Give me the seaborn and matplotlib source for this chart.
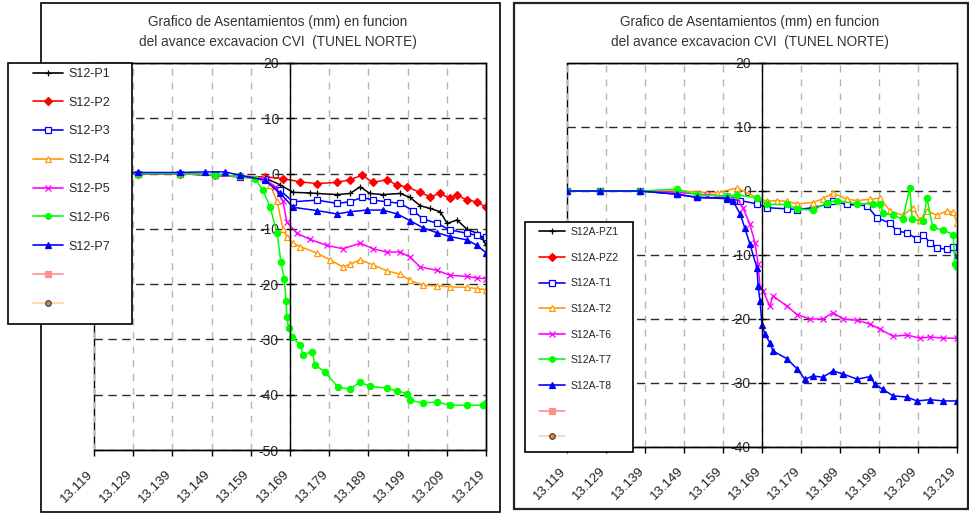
import matplotlib
matplotlib.use("Agg")
import matplotlib.pyplot as plt
import matplotlib.transforms as mtransforms
from matplotlib.lines import Line2D
from matplotlib.patches import Rectangle
import seaborn as sns

sns.set_style("white")
plt.rcParams["font.family"] = ["Liberation Sans", "DejaVu Sans"]

# ---------------- data ----------------
TITLE = "Grafico de Asentamientos (mm) en funcion\ndel avance excavacion CVI  (TUNEL NORTE)"
x_tick_labels = ["13.119", "13.129", "13.139", "13.149", "13.159", "13.169",
                 "13.179", "13.189", "13.199", "13.209", "13.219"]
y_axis_crossing = "13.169"
left_y_ticks = [20, 10, 0, -10, -20, -30, -40, -50]
right_y_ticks = [20, 10, 0, -10, -20, -30, -40]

left_labels = ["S12-P1", "S12-P2", "S12-P3", "S12-P4", "S12-P5", "S12-P6", "S12-P7", "", ""]
right_labels = ["S12A-PZ1", "S12A-PZ2", "S12A-T1", "S12A-T2", "S12A-T6", "S12A-T7", "S12A-T8", "", ""]

# left chart series
p1_x = [13.1190, 13.1302, 13.1409, 13.1499, 13.1562, 13.1626, 13.1664, 13.1698, 13.1741, 13.1759,
        13.1810, 13.1843, 13.1869, 13.1894, 13.1927, 13.1971, 13.1996, 13.2022, 13.2047, 13.2073,
        13.2091, 13.2116, 13.2142, 13.2167, 13.2182, 13.2190]
p1_y = [0, 0, 0, -0.3, -0.5, -0.8, -2.0, -3.4, -3.5, -3.6,
        -3.8, -3.6, -2.4, -3.6, -3.8, -3.6, -4.3, -5.8, -6.3, -6.9,
        -9.0, -8.4, -10.1, -10.8, -11.8, -13.0]

p2_x = [13.1190, 13.1302, 13.1409, 13.1499, 13.1562, 13.1626, 13.1672, 13.1716, 13.1759, 13.1810,
        13.1843, 13.1874, 13.1902, 13.1937, 13.1963, 13.1988, 13.2022, 13.2047, 13.2073, 13.2098,
        13.2116, 13.2142, 13.2167, 13.2190]
p2_y = [0, 0, 0, -0.3, -0.5, -0.6, -0.9, -1.5, -1.8, -1.6,
        -1.1, -0.3, -1.6, -1.1, -2.1, -2.4, -3.4, -4.2, -3.6, -4.5,
        -3.9, -4.8, -5.1, -6.1]

p3_x = [13.1190, 13.1302, 13.1409, 13.1499, 13.1562, 13.1626, 13.1664, 13.1698, 13.1759, 13.1810,
        13.1843, 13.1874, 13.1902, 13.1937, 13.1971, 13.2004, 13.2029, 13.2065, 13.2098, 13.2142,
        13.2167, 13.2190]
p3_y = [0, 0, 0, -0.3, -0.6, -1.0, -3.0, -5.1, -4.8, -5.4,
        -5.1, -4.3, -4.8, -5.1, -5.4, -6.7, -8.2, -9.0, -10.2, -10.8,
        -11.2, -11.5]

p4_x = [13.1190, 13.1302, 13.1409, 13.1499, 13.1562, 13.1621, 13.1639, 13.1657, 13.1672, 13.1682,
        13.1698, 13.1716, 13.1759, 13.1792, 13.1825, 13.1843, 13.1869, 13.1902, 13.1937, 13.1971,
        13.1996, 13.2029, 13.2065, 13.2098, 13.2142, 13.2167, 13.2190]
p4_y = [0, 0, 0, -0.3, -0.5, -0.8, -2.0, -5.0, -10.0, -11.5,
        -12.6, -13.2, -14.4, -15.6, -16.9, -16.4, -15.6, -16.5, -17.6, -18.2,
        -19.3, -20.2, -20.3, -20.5, -20.6, -20.8, -21.0]

p5_x = [13.1190, 13.1302, 13.1409, 13.1499, 13.1562, 13.1626, 13.1652, 13.1672, 13.1682, 13.1708,
        13.1741, 13.1784, 13.1825, 13.1869, 13.1902, 13.1937, 13.1971, 13.1996, 13.2022, 13.2065,
        13.2098, 13.2142, 13.2167, 13.2190]
p5_y = [0, 0, 0, -0.3, -0.5, -0.9, -2.5, -5.0, -8.8, -10.8,
        -11.9, -13.0, -13.6, -12.6, -13.6, -14.2, -14.2, -15.1, -16.9, -17.5,
        -18.4, -18.6, -18.9, -19.0]

p6_x = [13.1190, 13.1302, 13.1409, 13.1499, 13.1562, 13.1601, 13.1621, 13.1639, 13.1657, 13.1667,
        13.1675, 13.1680, 13.1682, 13.1687, 13.1695, 13.1716, 13.1723, 13.1746, 13.1754, 13.1779,
        13.1812, 13.1843, 13.1869, 13.1894, 13.1937, 13.1963, 13.1988, 13.1996, 13.2029, 13.2065,
        13.2098, 13.2142, 13.2182, 13.2190]
p6_y = [0, 0, 0, -0.2, -0.5, -1.0, -3.0, -6.0, -10.8, -16.0,
        -19.0, -23.0, -26.0, -28.0, -29.6, -31.0, -32.8, -32.2, -34.6, -35.9,
        -38.6, -39.0, -37.7, -38.5, -38.8, -39.3, -39.8, -41.0, -41.5, -41.3,
        -41.9, -41.9, -41.9, -41.5]

p7_x = [13.1190, 13.1302, 13.1409, 13.1473, 13.1524, 13.1562, 13.1626, 13.1664, 13.1698, 13.1759,
        13.1810, 13.1843, 13.1886, 13.1927, 13.1963, 13.1996, 13.2029, 13.2065, 13.2098, 13.2142,
        13.2167, 13.2190]
p7_y = [0, 0.2, 0.2, 0.3, 0.3, -0.3, -1.2, -3.5, -6.1, -6.7,
        -7.3, -6.9, -6.6, -6.6, -7.3, -8.5, -9.8, -10.7, -11.4, -12.0,
        -13.0, -14.3]

# right chart series (PZ1 / PZ2 have no visible readings)
pz1_x, pz1_y = [], []
pz2_x, pz2_y = [], []

t1_x = [13.1190, 13.1275, 13.1377, 13.1472, 13.1523, 13.1600, 13.1634, 13.1677, 13.1703, 13.1754,
        13.1780, 13.1821, 13.1857, 13.1872, 13.1908, 13.1959, 13.1985, 13.2018, 13.2036, 13.2062,
        13.2087, 13.2103, 13.2121, 13.2139, 13.2164, 13.2180, 13.2190]
t1_y = [0, 0, 0, -0.5, -1.0, -1.2, -1.5, -2.0, -2.6, -2.8,
        -2.9, -2.6, -2.1, -1.6, -2.1, -2.3, -4.2, -5.0, -6.3, -6.5,
        -7.5, -6.8, -8.1, -8.9, -9.1, -8.8, -10.9]

t2_x = [13.1190, 13.1275, 13.1377, 13.1472, 13.1575, 13.1626, 13.1677, 13.1703, 13.1728, 13.1754,
        13.1780, 13.1821, 13.1846, 13.1872, 13.1908, 13.1934, 13.1967, 13.1993, 13.2018, 13.2051,
        13.2077, 13.2095, 13.2113, 13.2139, 13.2164, 13.2180, 13.2190]
t2_y = [0, 0, 0, 0, -0.3, 0.5, -1.0, -1.6, -1.5, -1.6,
        -2.0, -1.8, -1.2, -0.3, -1.3, -1.5, -1.3, -1.1, -3.1, -3.8,
        -2.6, -4.5, -3.1, -3.8, -3.1, -3.3, -5.0]

t6_x = [13.1190, 13.1275, 13.1377, 13.1472, 13.1549, 13.1600, 13.1626, 13.1641, 13.1659, 13.1672,
        13.1680, 13.1685, 13.1693, 13.1710, 13.1718, 13.1754, 13.1780, 13.1813, 13.1846, 13.1872,
        13.1898, 13.1934, 13.1967, 13.1993, 13.2026, 13.2062, 13.2095, 13.2121, 13.2154, 13.2190]
t6_y = [0, 0, 0, -0.2, -0.6, -0.8, -1.1, -2.6, -5.2, -8.1,
        -11.4, -15.0, -15.6, -18.0, -16.4, -18.0, -19.3, -20.0, -20.0, -19.0,
        -20.0, -20.2, -20.8, -21.6, -22.7, -22.5, -23.0, -22.8, -23.0, -23.0]

t7_x = [13.1190, 13.1275, 13.1377, 13.1472, 13.1523, 13.1600, 13.1626, 13.1677, 13.1703, 13.1754,
        13.1780, 13.1821, 13.1857, 13.1882, 13.1934, 13.1975, 13.1993, 13.2000, 13.2026, 13.2051,
        13.2069, 13.2075, 13.2103, 13.2113, 13.2128, 13.2154, 13.2180, 13.2185, 13.2190]
t7_y = [0, 0, 0, 0.3, -0.6, -0.8, -0.6, -1.1, -2.1, -2.1,
        -2.8, -3.0, -1.8, -1.5, -2.0, -2.0, -2.0, -3.4, -3.8, -4.4,
        0.5, -4.4, -4.7, -1.1, -5.7, -6.1, -6.8, -11.4, -11.8]

t8_x = [13.1190, 13.1275, 13.1377, 13.1472, 13.1523, 13.1600, 13.1616, 13.1634, 13.1646, 13.1659,
        13.1677, 13.1680, 13.1685, 13.1690, 13.1698, 13.1710, 13.1718, 13.1754, 13.1780, 13.1800,
        13.1821, 13.1846, 13.1872, 13.1898, 13.1934, 13.1967, 13.1980, 13.2000, 13.2026, 13.2062,
        13.2087, 13.2121, 13.2154, 13.2190]
t8_y = [0, 0, 0, -0.5, -1.0, -1.1, -1.6, -3.6, -5.8, -8.3,
        -12.0, -14.8, -17.2, -21.0, -22.4, -23.7, -25.0, -26.2, -27.8, -29.4,
        -28.9, -29.1, -28.1, -28.6, -29.4, -29.0, -30.2, -31.0, -32.0, -32.2,
        -32.8, -32.6, -32.8, -32.8]

# ---------------- styles ----------------
# (color, marker, marker face)
STYLES = [
    ("#000000", "+", "#000000"),
    ("#ff0000", "D", "#ff0000"),
    ("#0000ff", "s", "#ffffff"),
    ("#ff9900", "^", "#ffffff"),
    ("#ff00ff", "x", "#ff00ff"),
    ("#00ff00", "o", "#00ff00"),
    ("#0000ff", "^", "#0000ff"),
]
EXTRA_STYLES = [
    ("#ff9090", "s", "#ff9090", "#ff9090"),
    ("#ffd2a6", "o", "#c89060", "#5a3d20"),
]


def draw_series(ax, xs, ys, style):
    color, marker, mfc = style
    if len(xs) == 0:
        return
    sns.lineplot(x=xs, y=ys, ax=ax, color=color, marker=marker, markersize=4.5,
                 markerfacecolor=mfc, markeredgecolor=color, markeredgewidth=0.9,
                 linewidth=1.1, estimator=None, sort=False, legend=False)


def legend_handles():
    hs = []
    for color, marker, mfc in STYLES:
        hs.append(Line2D([], [], color=color, marker=marker, markersize=4,
                         markerfacecolor=mfc, markeredgecolor=color,
                         markeredgewidth=0.9, linewidth=1.2))
    for color, marker, mfc, mec in EXTRA_STYLES:
        hs.append(Line2D([], [], color=color, marker=marker, markersize=4,
                         markerfacecolor=mfc, markeredgecolor=mec,
                         markeredgewidth=0.9, linewidth=1.2))
    return hs


def setup_axes(ax, yticks, fig):
    xticks = [float(t) for t in x_tick_labels]
    ax.set_xlim(xticks[0], xticks[-1])
    ax.set_ylim(min(yticks), max(yticks))
    ax.set_xticks(xticks)
    ax.set_xticklabels(x_tick_labels, rotation=45, ha="right", va="top",
                       rotation_mode="anchor", fontsize=9.5, color="#222222")
    ax.set_yticks(yticks)
    ax.set_yticklabels([str(v) for v in yticks], fontsize=9.5, color="#222222")
    ax.spines["left"].set_position(("data", float(y_axis_crossing)))
    for s in ax.spines.values():
        s.set_visible(True)
        s.set_color("black")
        s.set_linewidth(1.0)
    ax.patch.set_edgecolor("black")
    ax.patch.set_linewidth(1.0)
    ax.grid(False)
    ax.xaxis.grid(True, linestyle=(0, (5, 5)), color="#b4b4b4", linewidth=1.0)
    ax.yaxis.grid(True, linestyle=(0, (6, 4)), color="#2a2a2a", linewidth=1.0)
    ax.set_axisbelow(True)
    ax.tick_params(axis="x", direction="out", length=4, width=1, color="black",
                   pad=9, bottom=True, top=False)
    ax.tick_params(axis="y", direction="inout", length=6, width=1, color="black",
                   pad=5, left=True, right=False)
    ax.set_xlabel("")
    ax.set_ylabel("")
    offset = mtransforms.ScaledTranslation(-7 / 100, 0, fig.dpi_scale_trans)
    for lbl in ax.get_xticklabels():
        lbl.set_transform(lbl.get_transform() + offset)


W, H = 969, 514
fig = plt.figure(figsize=(W / 100, H / 100), dpi=100)

# panel frames
fig.add_artist(Rectangle((41 / W, 1 - 512 / H), (500 - 41) / W, (512 - 3) / H,
                         transform=fig.transFigure, fill=False, edgecolor="black",
                         linewidth=1.2, zorder=0.5))
fig.add_artist(Rectangle((514 / W, 1 - 509 / H), (968 - 514) / W, (509 - 3) / H,
                         transform=fig.transFigure, fill=False, edgecolor="#222222",
                         linewidth=1.6, zorder=0.5))

axL = fig.add_axes([94 / W, 1 - 450 / H, (486 - 94) / W, (450 - 63) / H])
axR = fig.add_axes([567 / W, 1 - 447 / H, (957 - 567) / W, (447 - 63) / H])

left_series = [(p1_x, p1_y), (p2_x, p2_y), (p3_x, p3_y), (p4_x, p4_y),
               (p5_x, p5_y), (p6_x, p6_y), (p7_x, p7_y)]
right_series = [(pz1_x, pz1_y), (pz2_x, pz2_y), (t1_x, t1_y), (t2_x, t2_y),
                (t6_x, t6_y), (t7_x, t7_y), (t8_x, t8_y)]

for (xs, ys), st in zip(left_series, STYLES):
    draw_series(axL, xs, ys, st)
for (xs, ys), st in zip(right_series, STYLES):
    draw_series(axR, xs, ys, st)

setup_axes(axL, left_y_ticks, fig)
setup_axes(axR, right_y_ticks, fig)

# titles
fig.text(278 / W, 1 - 32 / H, TITLE, ha="center", va="center", fontsize=9.8,
         color="#333333", linespacing=1.55)
fig.text(750 / W, 1 - 32 / H, TITLE, ha="center", va="center", fontsize=9.8,
         color="#333333", linespacing=1.55)

# legend boxes
fig.add_artist(Rectangle((8 / W, 1 - 324 / H), (132 - 8) / W, (324 - 63) / H,
                         transform=fig.transFigure, facecolor="white", edgecolor="black",
                         linewidth=1.2, zorder=3))
fig.add_artist(Rectangle((525 / W, 1 - 452 / H), (633 - 525) / W, (452 - 222) / H,
                         transform=fig.transFigure, facecolor="white", edgecolor="black",
                         linewidth=1.2, zorder=3))

legL = fig.legend(legend_handles(), left_labels, loc="upper left",
                  bbox_to_anchor=(33 / W, 1 - 68 / H), bbox_transform=fig.transFigure,
                  frameon=False, fontsize=9, handlelength=2.4, handletextpad=0.4,
                  labelspacing=1.34, borderpad=0, borderaxespad=0)
legL.set_zorder(4)
legR = fig.legend(legend_handles(), right_labels, loc="upper left",
                  bbox_to_anchor=(539 / W, 1 - 227 / H), bbox_transform=fig.transFigure,
                  frameon=False, fontsize=7.5, handlelength=2.5, handletextpad=0.5,
                  labelspacing=1.5, borderpad=0, borderaxespad=0)
legR.set_zorder(4)

fig.savefig("out.png", dpi=100)
